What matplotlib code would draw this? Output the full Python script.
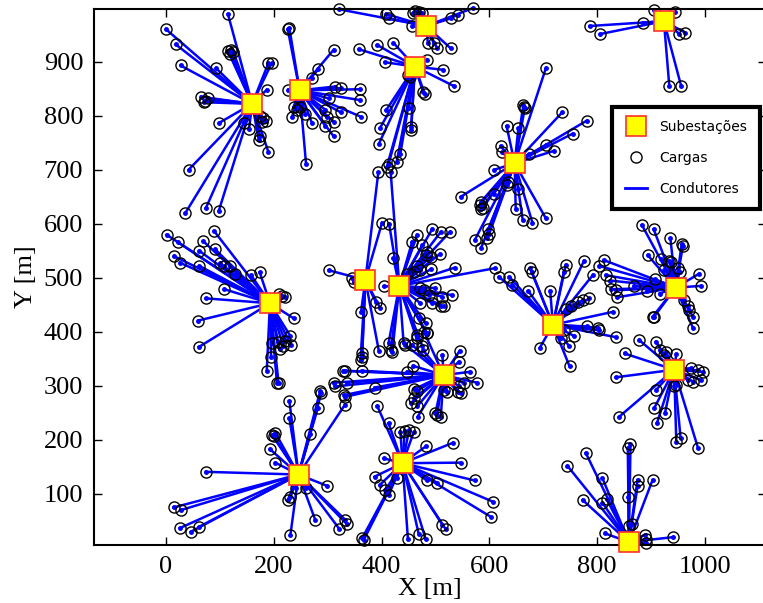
import matplotlib
matplotlib.use('Agg')
import matplotlib.pyplot as plt
from matplotlib.lines import Line2D

# subestacoes (x, y) em metros
sub_x = [160, 248, 483, 462, 924, 647, 193, 370, 433, 718, 946, 515, 943, 246, 439, 859]
sub_y = [822, 847, 966, 891, 975, 712, 453, 496, 485, 413, 482, 320, 330, 136, 157, 11]

# cargas ligadas a cada subestacao
cargas_s1 = [(0, 960), (18, 932), (27, 893), (115, 988), (115, 920), (120, 922), (125, 918), (118, 915),
             (93, 888), (65, 835), (70, 825), (78, 832), (72, 828), (99, 787), (42, 700), (36, 620),
             (74, 629), (98, 624), (187, 848), (190, 897), (196, 897), (175, 800), (180, 795), (185, 790),
             (178, 788), (154, 775), (144, 786), (172, 756), (175, 762), (190, 733)]
cargas_s2 = [(226, 960), (229, 962), (311, 922), (283, 886), (271, 869), (314, 854), (325, 851), (360, 849),
             (302, 832), (360, 829), (362, 798), (325, 806), (296, 811), (298, 798), (311, 789), (311, 762),
             (296, 781), (271, 786), (237, 817), (243, 811), (249, 817), (258, 804), (234, 798), (227, 848),
             (260, 710)]
cargas_s3 = [(321, 997), (409, 988), (414, 980), (457, 966), (458, 990), (463, 993), (470, 992), (475, 990),
             (528, 980), (541, 986), (569, 999), (528, 925), (486, 934), (497, 934), (503, 925)]
cargas_s4 = [(358, 923), (392, 931), (422, 935), (406, 899), (485, 904), (514, 885), (534, 855), (449, 875),
             (452, 871), (477, 844), (480, 841), (409, 811), (397, 777), (395, 748), (451, 814), (455, 780),
             (455, 774), (435, 730), (428, 714), (413, 710), (410, 706)]
cargas_s5 = [(786, 966), (805, 951), (886, 972), (905, 996), (945, 992), (952, 952), (963, 954), (934, 855),
             (956, 855)]
cargas_s6 = [(705, 888), (735, 806), (781, 791), (755, 767), (705, 746), (720, 735), (665, 817), (666, 815),
             (663, 819), (632, 781), (654, 777), (621, 744), (624, 732), (673, 729), (609, 700), (547, 650),
             (584, 640), (582, 635), (588, 630), (585, 628), (608, 655), (634, 677), (632, 672), (654, 664),
             (649, 627), (662, 607), (680, 602), (705, 610), (573, 570), (585, 556), (600, 582), (598, 590),
             (595, 573)]
cargas_s7 = [(1, 580), (22, 566), (15, 540), (26, 528), (62, 522), (62, 550), (69, 568), (89, 587), (91, 553),
             (100, 527), (108, 521), (118, 521), (128, 507), (108, 479), (74, 462), (158, 505), (174, 510),
             (209, 471), (216, 467), (221, 464), (60, 421), (61, 372), (237, 425), (197, 379), (207, 382),
             (221, 384), (231, 392), (232, 376), (218, 373), (195, 354), (187, 328), (206, 305), (209, 305),
             (211, 368)]
cargas_s8 = [(394, 695), (401, 602), (302, 514), (345, 499), (348, 493), (362, 437), (389, 456), (397, 445),
             (364, 360), (361, 348), (364, 354), (395, 365)]
cargas_s9 = [(417, 695), (414, 600), (422, 536), (413, 379), (417, 366), (420, 363), (457, 567), (466, 579),
             (494, 590), (510, 585), (527, 585), (476, 561), (485, 548), (491, 539), (482, 542), (508, 544),
             (492, 516), (472, 514), (466, 521), (460, 511), (448, 508), (536, 519), (611, 518), (472, 481),
             (479, 478), (488, 468), (500, 481), (513, 465), (531, 468), (510, 447), (516, 447), (494, 453),
             (472, 453), (469, 425), (482, 416), (485, 397), (465, 388), (476, 373), (441, 379), (404, 484),
             (466, 394), (484, 397)]
cargas_s10 = [(618, 502), (637, 502), (643, 487), (676, 518), (679, 510), (672, 476), (713, 476), (742, 524),
              (738, 510), (776, 532), (792, 505), (785, 462), (773, 459), (764, 456), (751, 447), (742, 442),
              (829, 437), (781, 410), (801, 408), (803, 403), (836, 390), (758, 392), (748, 374), (749, 336),
              (694, 371), (739, 404), (733, 388)]
cargas_s11 = [(883, 598), (905, 590), (936, 573), (957, 563), (959, 558), (894, 542), (919, 534), (934, 532),
              (937, 530), (925, 515), (950, 518), (953, 511), (990, 508), (992, 485), (812, 533), (804, 522),
              (816, 505), (824, 495), (826, 479), (835, 477), (837, 464), (868, 485), (893, 476), (908, 497),
              (903, 428), (905, 427), (916, 471), (962, 459), (968, 447), (971, 440), (978, 428), (978, 407)]
cargas_s12 = [(513, 357), (545, 365), (544, 345), (564, 326), (577, 306), (553, 305), (547, 286), (541, 289),
              (522, 289), (516, 292), (500, 249), (510, 242), (503, 246), (479, 400), (477, 366), (457, 376),
              (444, 376), (459, 337), (448, 326), (329, 328), (333, 328), (363, 328), (311, 306), (314, 299),
              (336, 306), (387, 297), (330, 283), (333, 280), (461, 294), (466, 291), (460, 277), (454, 268),
              (466, 262), (467, 243), (544, 299)]
cargas_s13 = [(878, 385), (851, 360), (835, 316), (841, 243), (909, 382), (916, 366), (925, 357), (928, 363),
              (947, 359), (975, 333), (987, 329), (996, 326), (993, 311), (978, 308), (968, 311), (947, 302),
              (943, 300), (909, 292), (906, 259), (926, 250), (911, 231), (947, 197), (955, 203), (987, 186)]
cargas_s14 = [(74, 141), (14, 75), (27, 70), (26, 37), (46, 30), (61, 39), (203, 158), (193, 183), (200, 207),
              (197, 209), (203, 213), (229, 240), (229, 272), (268, 211), (282, 260), (288, 286), (286, 290),
              (332, 265), (299, 115), (226, 89), (231, 94), (242, 111), (260, 111), (277, 52), (322, 35),
              (333, 52), (336, 44), (231, 25)]
cargas_s15 = [(392, 263), (413, 231), (435, 215), (443, 217), (451, 218), (460, 215), (482, 188), (533, 195),
              (547, 158), (404, 166), (387, 132), (397, 117), (407, 107), (413, 98), (428, 129), (484, 125),
              (503, 121), (573, 125), (606, 86), (604, 57), (513, 43), (519, 35), (449, 16), (469, 26),
              (482, 16), (364, 18), (367, 15)]
cargas_s16 = [(779, 176), (745, 152), (773, 89), (810, 129), (810, 84), (818, 90), (857, 185), (862, 192),
              (858, 95), (875, 126), (875, 114), (903, 126), (864, 44), (860, 41), (815, 27), (888, 24),
              (891, 16), (891, 9), (940, 20)]

cargas = [cargas_s1, cargas_s2, cargas_s3, cargas_s4, cargas_s5, cargas_s6, cargas_s7, cargas_s8,
          cargas_s9, cargas_s10, cargas_s11, cargas_s12, cargas_s13, cargas_s14, cargas_s15, cargas_s16]

xticks = [0, 200, 400, 600, 800, 1000]
yticks = [100, 200, 300, 400, 500, 600, 700, 800, 900]

fig = plt.figure(figsize=(7.63, 6.03), dpi=100)
# eixo direito fica fora da figura
ax = fig.add_axes([94.3 / 763, 58 / 603, 672 / 763, 536 / 603])

for sx, sy, grupo in zip(sub_x, sub_y, cargas):
    for cx, cy in grupo:
        ax.plot([sx, cx], [sy, cy], color='#0000ff', lw=1.8, zorder=1, clip_on=False)
        ax.plot(cx, cy, 'o', color='#0000ff', ms=2.5, zorder=1, clip_on=False)

todas_x = [c[0] for g in cargas for c in g]
todas_y = [c[1] for g in cargas for c in g]
ax.plot(todas_x, todas_y, 'o', mfc='none', mec='black', ms=8, mew=1.0, zorder=2, clip_on=False)
ax.plot(sub_x, sub_y, 's', mfc='#ffff00', mec='#ff3030', ms=14, mew=1.2, zorder=3, clip_on=False)

ax.set_xlim(-133, 1114)
ax.set_ylim(5.6, 997.5)
ax.set_xticks(xticks)
ax.set_yticks(yticks)
ax.tick_params(direction='in', top=True, right=True, length=6, width=1, labelsize=19, pad=8)
for lbl in ax.get_xticklabels() + ax.get_yticklabels():
    lbl.set_family('Liberation Serif')
for sp in ax.spines.values():
    sp.set_linewidth(1.5)

ax.set_xlabel('X [m]', fontsize=19, family='Liberation Serif', labelpad=0)
ax.set_ylabel('Y [m]', fontsize=19, family='Liberation Serif', labelpad=5)

handles = [
    Line2D([], [], ls='none', marker='s', mfc='#ffff00', mec='#ff3030', ms=14, mew=1.2),
    Line2D([], [], ls='none', marker='o', mfc='none', mec='black', ms=8, mew=1.0),
    Line2D([], [], color='#0000ff', lw=2),
]
leg = ax.legend(handles, ['Subestações', 'Cargas', 'Condutores'], loc='upper right',
                bbox_to_anchor=(760 / 763, 1 - 107 / 603), bbox_transform=fig.transFigure,
                borderaxespad=0, fontsize=10, handlelength=1.6, handletextpad=0.9,
                labelspacing=1.25, borderpad=0.9, fancybox=False, framealpha=1)
leg.get_frame().set_edgecolor('black')
leg.get_frame().set_linewidth(3)

fig.savefig('out.png', dpi=100)
